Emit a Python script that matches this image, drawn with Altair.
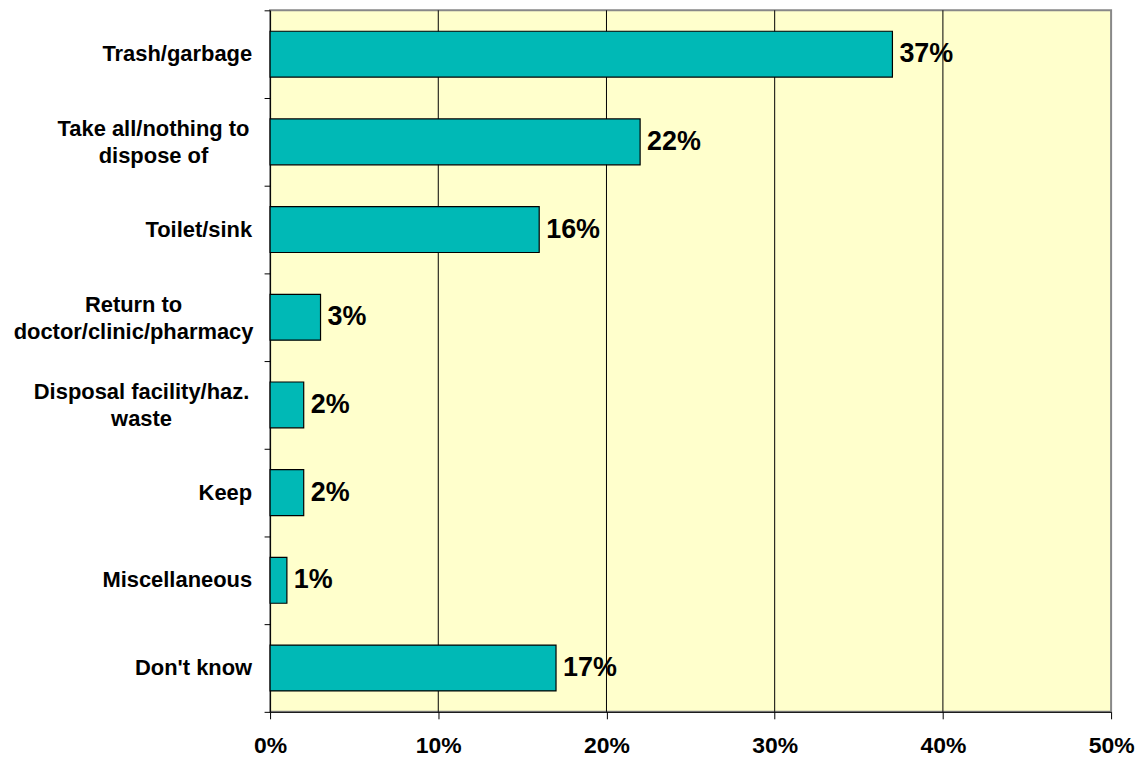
import altair as alt
import pandas as pd

categories = [
    "Trash/garbage",
    "Take all/nothing to|dispose of",
    "Toilet/sink",
    "Return to|doctor/clinic/pharmacy",
    "Disposal facility/haz.|waste",
    "Keep",
    "Miscellaneous",
    "Don't know",
]
values = [0.37, 0.22, 0.16, 0.03, 0.02, 0.02, 0.01, 0.17]
x_ticks = [0, 0.1, 0.2, 0.3, 0.4, 0.5]
grid_values = [0.1, 0.2, 0.3, 0.4]

df = pd.DataFrame({"category": categories, "value": values})
grid_df = pd.DataFrame({"g": grid_values})

FONT = "Arial, Liberation Sans, sans-serif"

y_enc = alt.Y(
    "category:N",
    sort=categories,
    scale=alt.Scale(paddingInner=0, paddingOuter=0),
    axis=alt.Axis(
        title=None,
        tickBand="extent",
        ticks=True,
        tickSize=6,
        tickColor="black",
        domainColor="black",
        labels=False,
        grid=False,
    ),
)

x_scale = alt.Scale(domain=[0, 0.5], nice=False)

x_axis = alt.Axis(
    title=None,
    orient="bottom",
    values=x_ticks,
    format=".0%",
    tickSize=7,
    tickColor="black",
    domainColor="black",
    grid=False,
    labelFont=FONT,
    labelFontSize=23,
    labelFontWeight="bold",
    labelColor="black",
    labelPadding=16,
    labelFlush=False,
)

grid = alt.Chart(grid_df).mark_rule(color="black", strokeWidth=1).encode(
    x=alt.X("g:Q", scale=x_scale, axis=x_axis)
)

base = alt.Chart(df).encode(
    y=y_enc,
    x=alt.X("value:Q", scale=x_scale, axis=x_axis),
)

bars = base.mark_bar(
    color="#00B9B6", stroke="black", strokeWidth=1.2, height={"band": 0.523}
)

labels = base.mark_text(
    align="left",
    baseline="middle",
    dx=7,
    font=FONT,
    fontSize=27,
    fontWeight="bold",
    color="black",
).encode(
    text=alt.Text("value:Q", format=".0%"),
)

label_style = dict(font=FONT, fontSize=22, fontWeight="bold", color="black", baseline="middle")

cat_single = (
    alt.Chart(df)
    .transform_filter("indexof(datum.category, '|') < 0")
    .mark_text(align="right", **label_style)
    .encode(y=alt.Y("category:N", sort=categories), x=alt.value(-18), text="category:N")
)


def multi_label(name, center_offset):
    return (
        alt.Chart(df)
        .transform_filter(alt.datum.category == name)
        .mark_text(align="center", lineBreak="|", lineHeight=27, dy=-12.5, **label_style)
        .encode(
            y=alt.Y("category:N", sort=categories),
            x=alt.value(-center_offset),
            text="category:N",
        )
    )


cat_multi = [
    multi_label(categories[1], 117),
    multi_label(categories[3], 137),
    multi_label(categories[4], 129),
]

chart = (
    alt.layer(grid, bars, labels, cat_single, *cat_multi)
    .properties(
        width=844,
        height=704,
        autosize=alt.AutoSizeParams(type="none"),
        padding={"left": 263, "top": 1, "right": 27, "bottom": 46},
        background="white",
    )
    .configure_view(fill="#FFFFCC", stroke="#888888", strokeWidth=2)
)

chart.save("out.html", embed_options={"renderer": "svg", "actions": False})
